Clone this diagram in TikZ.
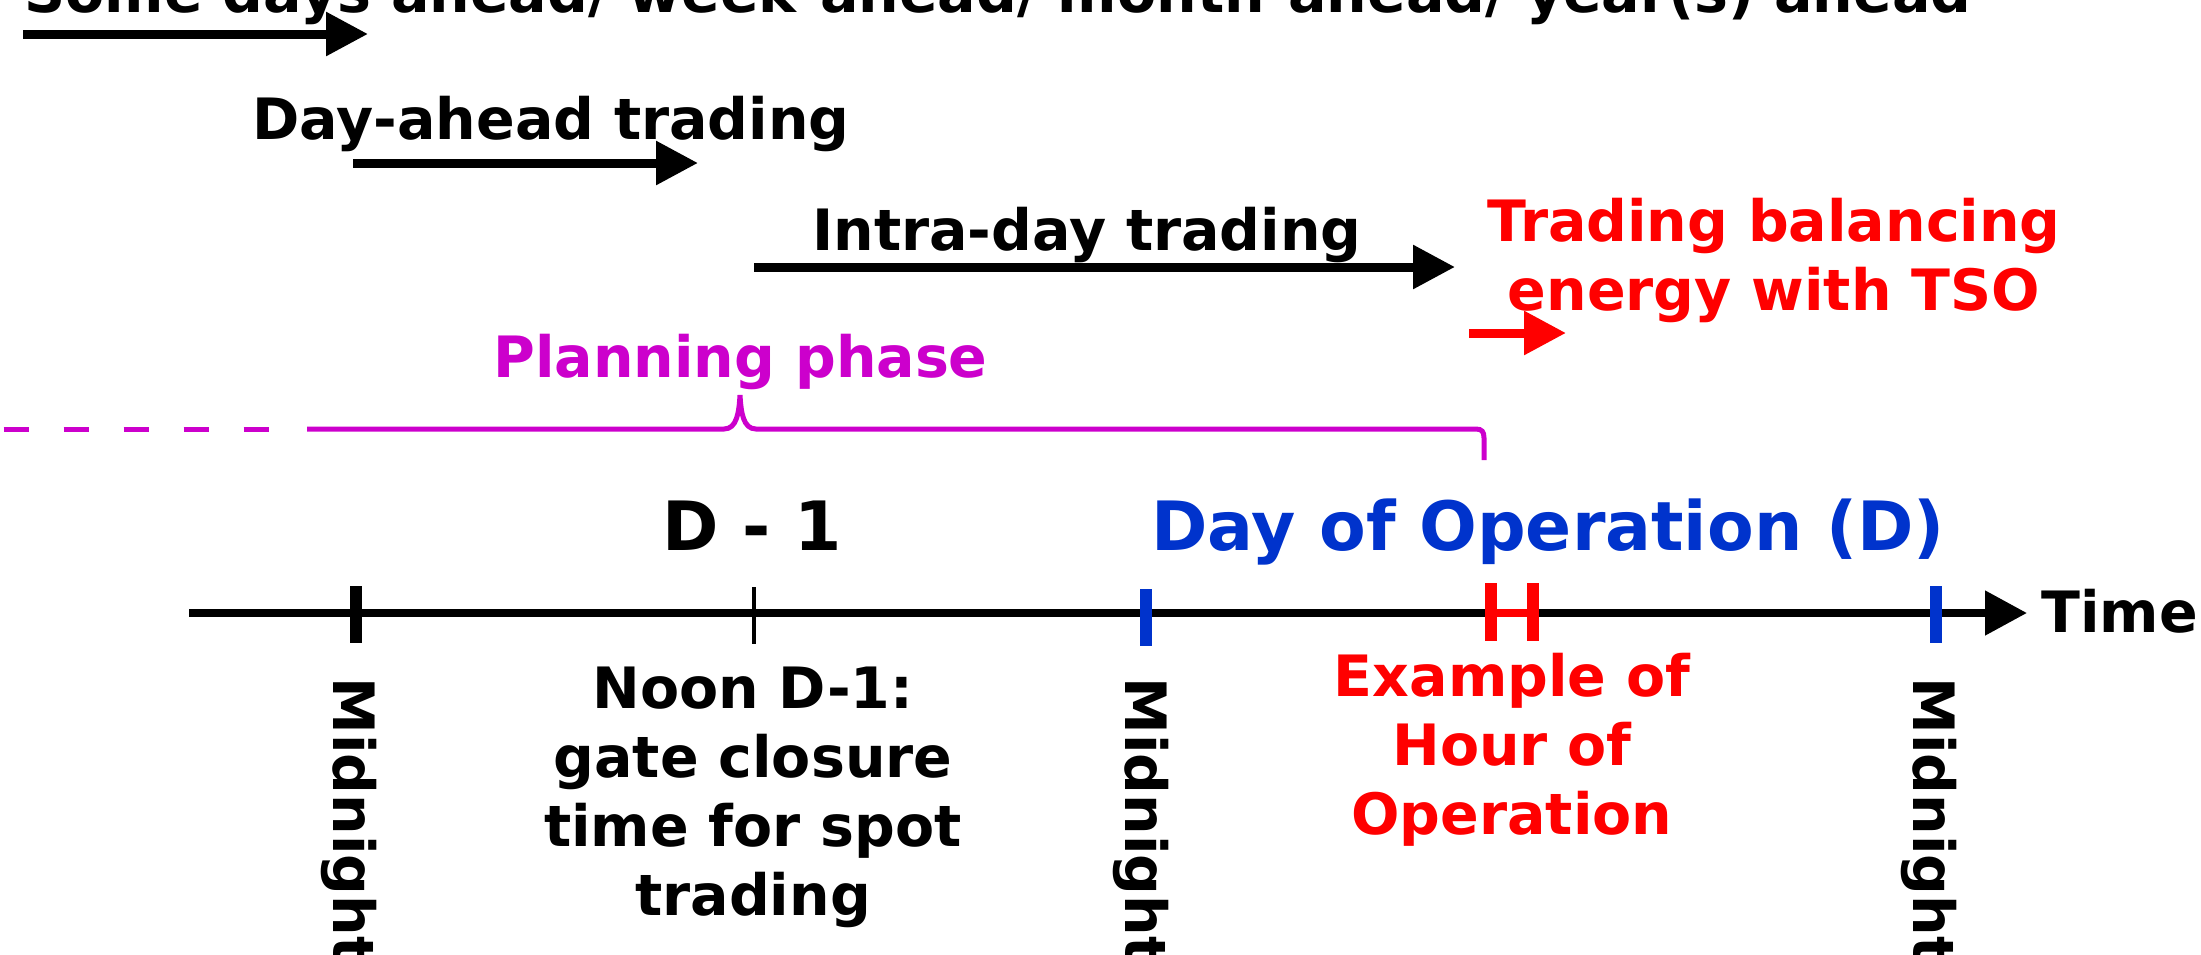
\documentclass[tikz,border=0pt]{standalone}
\usepackage{fontspec}
\setmainfont{DejaVu Sans}
\usetikzlibrary{arrows.meta}
\definecolor{mag}{RGB}{204,0,204}
\definecolor{dblue}{RGB}{0,51,204}
\definecolor{tred}{RGB}{255,0,0}
\begin{document}
\begin{tikzpicture}[x=0.5pt,y=-0.5pt,
  lbl/.style={inner sep=0pt, font=\bfseries\fontsize{28.5}{34.5}\selectfont},
  bigl/.style={inner sep=0pt, font=\bfseries\fontsize{34}{40}\selectfont},
  midn/.style={lbl, rotate=-90, anchor=base west},
  harrow/.style={line width=4.5pt, -{Triangle[length=21pt,width=21pt]}},
  axisline/.style={line width=4pt, -{Triangle[length=21pt,width=21.5pt]}},
  ticka/.style={line width=6pt},
  brace/.style={mag, line width=2.5pt},
]
\useasboundingbox (0,0) rectangle (2201,954);

% top labels and arrows
\node[lbl, anchor=base] (t1) at (998,12) {Some days ahead/ week-ahead/ month-ahead/ year(s) ahead};
\coordinate (a1s) at (23,34); \coordinate (a1e) at (368,34);
\draw[harrow] (a1s) -- (a1e);

\node[lbl, anchor=base] (t2) at (551,139) {Day-ahead trading};
\coordinate (a2s) at (353,163); \coordinate (a2e) at (698,163);
\draw[harrow] (a2s) -- (a2e);

\node[lbl, anchor=base] (t3) at (1087,250) {Intra-day trading};
\coordinate (a3s) at (754,267); \coordinate (a3e) at (1455,267);
\draw[harrow] (a3s) -- (a3e);

\node[lbl, tred, anchor=north, align=center] (t4) at (1774,198) {Trading balancing\\energy with TSO};
\coordinate (a4s) at (1469,333); \coordinate (a4e) at (1566,333);
\draw[harrow, tred] (a4s) -- (a4e);

% planning phase brace
\node[lbl, mag, anchor=base] (pp) at (740.5,377) {Planning phase};
\draw[brace, dash pattern=on 12.5pt off 17.5pt] (3.5,429) -- (270,429);
\draw[brace] (307,429) -- (724,429) .. controls (737,429) and (739,412) .. (740,395)
  .. controls (741,412) and (743,429) .. (756,429) -- (1476,429)
  .. controls (1482,429) and (1484,432) .. (1484,438) -- (1484,460);

% day labels
\node[bigl, anchor=base] (dm1) at (752.5,550) {D - 1};
\node[bigl, dblue, anchor=base] (dd) at (1548,550) {Day of Operation (D)};

% time axis
\coordinate (ax0) at (189,613); \coordinate (ax1) at (2027,613);
\draw[axisline] (ax0) -- (ax1);
\node[lbl, anchor=base west] (time) at (2041,632) {Time};

% ticks
\draw[ticka] (356,586) -- (356,643);
\draw[line width=1.8pt] (754,587) -- (754,644);
\draw[ticka, dblue] (1146,589) -- (1146,646);
\draw[ticka, dblue] (1935.5,586) -- (1935.5,643);
\draw[ticka, tred] (1491,583) -- (1491,641);
\draw[ticka, tred] (1533,583) -- (1533,641);
\draw[tred, line width=4pt] (1491,613) -- (1533,613);

% midnight labels
\node[midn] (m1) at (333,677) {Midnight};
\node[midn] (m2) at (1125,677) {Midnight};
\node[midn] (m3) at (1913,677) {Midnight};

% explanatory labels
\node[lbl, anchor=north, align=center] (noon) at (753,667) {Noon D-1:\\gate closure\\time for spot\\trading};
\node[lbl, tred, anchor=north, align=center] (hour) at (1512,653) {Example of\\Hour of\\Operation};
\end{tikzpicture}
\end{document}
